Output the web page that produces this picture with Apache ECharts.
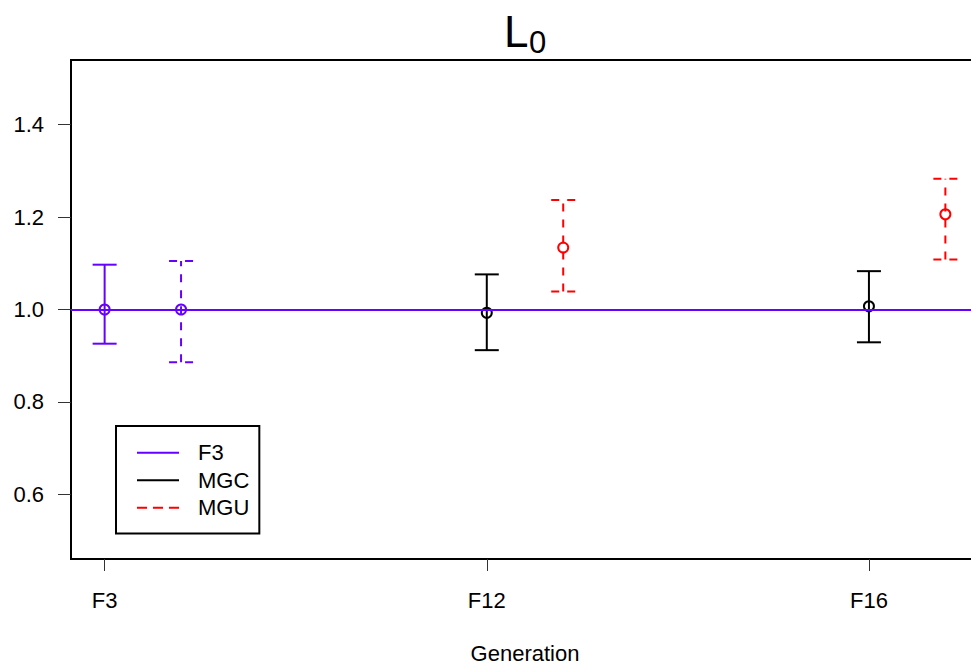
<!DOCTYPE html>
<html><head><meta charset="utf-8">
<script src="https://cdn.jsdelivr.net/npm/echarts@6/dist/echarts.min.js"></script>
<style>html,body{margin:0;padding:0;background:#fff}#c{width:971px;height:666px}</style>
</head><body><div id="c"></div>
<script>
// ---- data ----
const generations = ['F3', 'F12', 'F16'];
const controlMean  = [1.000, 0.993, 1.007];
const controlLower = [0.926, 0.912, 0.929];
const controlUpper = [1.097, 1.076, 1.083];
const selectedMean  = [1.000, 1.134, 1.206];
const selectedLower = [0.886, 1.039, 1.108];
const selectedUpper = [1.105, 1.237, 1.283];
const referenceLevel = 1.0;
const yTicks = [0.6, 0.8, 1.0, 1.2, 1.4];
const legendNames = ['F3', 'MGC', 'MGU'];

// ---- styling ----
const PURPLE = '#6600ff';
const RED = '#ff0000';
const BLACK = '#000000';
const FONT = '"Liberation Sans", Arial, sans-serif';
const OFFSET = 0.2;
const xPos = generations.map((g, i) => i + 1);

function barData(mean, lo, hi, off) {
  return mean.map((m, i) => [xPos[i] + off, m, lo[i], hi[i], i]);
}

function makeRender(dashed, mainColor) {
  return function (params, api) {
    const x = api.value(0), m = api.value(1), lo = api.value(2), hi = api.value(3), idx = api.value(4);
    const color = idx === 0 ? PURPLE : mainColor;
    const pLo = api.coord([x, lo]), pHi = api.coord([x, hi]), pM = api.coord([x, m]);
    const cap = 12;
    const st = () => ({ stroke: color, lineWidth: 2, fill: 'none', lineDash: dashed ? [8, 8] : null });
    return {
      type: 'group',
      children: [
        { type: 'line', shape: { x1: pLo[0], y1: pLo[1], x2: pHi[0], y2: pHi[1] }, style: st() },
        { type: 'line', shape: { x1: pHi[0] - cap, y1: pHi[1], x2: pHi[0] + cap, y2: pHi[1] }, style: st() },
        { type: 'line', shape: { x1: pLo[0] - cap, y1: pLo[1], x2: pLo[0] + cap, y2: pLo[1] }, style: st() },
        { type: 'circle', shape: { cx: pM[0], cy: pM[1], r: 5 }, style: { stroke: color, lineWidth: 2, fill: 'none' } }
      ]
    };
  };
}

const chart = echarts.init(document.getElementById('c'), null, { renderer: 'svg' });
chart.setOption({
  animation: false,
  backgroundColor: '#ffffff',
  textStyle: { fontFamily: FONT },
  grid: { left: 71, top: 60, right: -8, bottom: 107, outerBoundsMode: 'none', containLabel: false,
          show: true, borderColor: BLACK, borderWidth: 2, backgroundColor: 'transparent' },
  graphic: [
    { type: 'text', x: 504, y: 31, style: { text: 'L', fontSize: 44, fontFamily: FONT, fill: BLACK, verticalAlign: 'middle' } },
    { type: 'text', x: 529, y: 42, style: { text: '0', fontSize: 31, fontFamily: FONT, fill: BLACK, verticalAlign: 'middle' } }
  ],
  legend: {
    orient: 'vertical', left: 116, top: 426,
    data: legendNames,
    itemWidth: 42, itemHeight: 14, itemGap: 0,
    padding: [13, 10, 12, 20],
    borderColor: BLACK, borderWidth: 2, borderRadius: 0,
    selectedMode: false,
    itemStyle: { opacity: 0 },
    textStyle: { fontSize: 22, color: BLACK, fontFamily: FONT, lineHeight: 27.5, padding: [0, 0, 0, 14] }
  },
  xAxis: {
    type: 'value', min: 0.912, max: 3.288,
    axisLine: { show: false }, splitLine: { show: false },
    axisTick: { show: true, customValues: xPos, length: 12, lineStyle: { color: '#333', width: 1 } },
    axisLabel: { customValues: xPos, formatter: v => generations[Math.round(v) - 1], margin: 30, fontSize: 22, color: BLACK, fontFamily: FONT },
    name: 'Generation', nameLocation: 'middle', nameGap: 83,
    nameTextStyle: { fontSize: 22, color: BLACK, fontFamily: FONT }
  },
  yAxis: {
    type: 'value', min: 0.46, max: 1.54,
    axisLine: { show: false }, splitLine: { show: false },
    axisTick: { show: true, customValues: yTicks, length: 13, lineStyle: { color: '#333', width: 1 } },
    axisLabel: { customValues: yTicks, formatter: v => v.toFixed(1), margin: 27, fontSize: 22, color: BLACK, fontFamily: FONT }
  },
  series: [
    {
      name: 'F3', type: 'line', data: [], symbol: 'none', z: 5,
      lineStyle: { color: PURPLE, width: 2 }, itemStyle: { color: PURPLE },
      markLine: { silent: true, symbol: 'none', label: { show: false }, lineStyle: { color: PURPLE, width: 2, type: 'solid' }, data: [{ yAxis: referenceLevel }] }
    },
    { name: 'MGC', type: 'line', data: [], symbol: 'none', lineStyle: { color: BLACK, width: 2 }, itemStyle: { color: BLACK } },
    { name: 'MGU', type: 'line', data: [], symbol: 'none', lineStyle: { color: RED, width: 2, type: [10, 6] }, itemStyle: { color: RED } },
    { name: 'controlBars', type: 'custom', z: 3, renderItem: makeRender(false, BLACK), data: barData(controlMean, controlLower, controlUpper, 0) },
    { name: 'selectedBars', type: 'custom', z: 3, renderItem: makeRender(true, RED), data: barData(selectedMean, selectedLower, selectedUpper, OFFSET) }
  ]
});
</script>
</body></html>
